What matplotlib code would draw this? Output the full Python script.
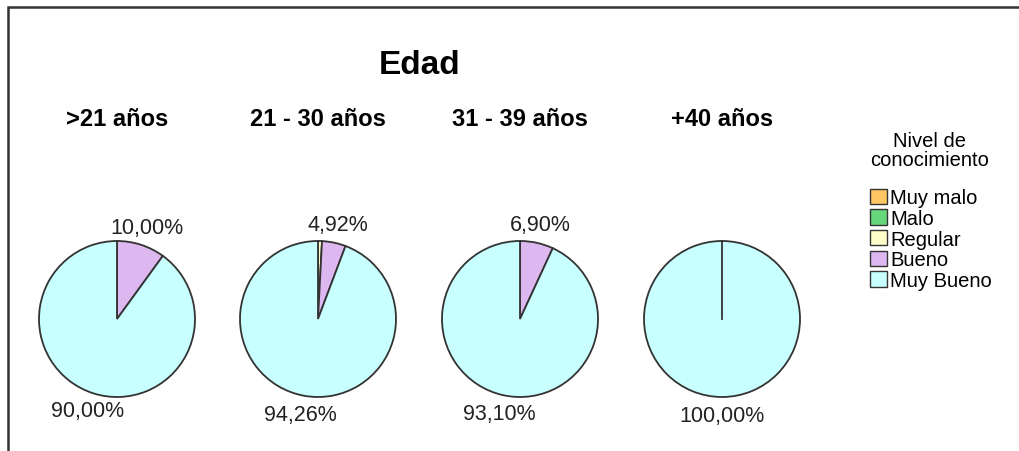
import numpy as np
import matplotlib
matplotlib.use("Agg")
import matplotlib.pyplot as plt
from matplotlib.patches import Patch, Rectangle

plt.rcParams['font.family'] = ['Liberation Sans', 'DejaVu Sans']

# data
title = "Edad"
groups = [">21 años", "21 - 30 años", "31 - 39 años", "+40 años"]
levels = ["Muy malo", "Malo", "Regular", "Bueno", "Muy Bueno"]
colors = ["#FFC864", "#66D77A", "#FFFFCC", "#DDB8F0", "#C8FFFF"]
# percentages per group, in the order of levels
pct_lt21 = [0, 0, 0, 10.00, 90.00]
pct_21_30 = [0, 0, 0.82, 4.92, 94.26]
pct_31_39 = [0, 0, 0, 6.90, 93.10]
pct_40 = [0, 0, 0, 0, 100.00]
values = [pct_lt21, pct_21_30, pct_31_39, pct_40]

W, H = 1020, 452
fig = plt.figure(figsize=(W / 100, H / 100), dpi=100)
ax = fig.add_axes([0, 0, 1, 1])

centers_x = [117, 318, 520, 722]
cy = H - 320
r = 78
edge = "#333333"


def fmt(v):
    return ("%.2f%%" % v).replace(".", ",")


for gx, name, vals in zip(centers_x, groups, values):
    labels = [fmt(v) if v >= 1 else "" for v in vals]
    wedges, texts = ax.pie(vals, colors=colors, startangle=90, counterclock=False,
                           center=(gx, cy), radius=r, labels=labels, labeldistance=1.24,
                           wedgeprops=dict(edgecolor=edge, linewidth=1.3),
                           textprops=dict(fontsize=15.5, color="#222222"))
    for t in texts:
        t.set_horizontalalignment("center")
        t.set_verticalalignment("center")
    # a full-circle wedge still shows its radial border in the reference
    for w in wedges:
        if w.theta2 - w.theta1 >= 359.9:
            a = np.deg2rad(w.theta2)
            ax.plot([gx, gx + r * np.cos(a)], [cy, cy + r * np.sin(a)],
                    color=edge, linewidth=1.3)
    ax.text(gx, H - 120, name, ha="center", va="center", fontsize=17, fontweight="bold")

ax.text(420, H - 65, title, ha="center", va="center", fontsize=24, fontweight="bold")

ax.set_xlim(0, W)
ax.set_ylim(0, H)
ax.set_aspect("auto")
ax.axis("off")

# outer frame (only top and left edges visible)
ax.add_patch(Rectangle((8, -20), W + 20, H - 8 + 20, fill=False,
                       edgecolor=edge, linewidth=1.8))

handles = [Patch(facecolor=c, edgecolor=edge, label=l) for c, l in zip(colors, levels)]
leg = fig.legend(handles=handles, title="Nivel de\nconocimiento", loc="upper center",
                 bbox_to_anchor=(931 / W, 1 - 124 / H), frameon=False, fontsize=14.5,
                 title_fontsize=14.5, handlelength=0.85, handleheight=0.8, handletextpad=0.15,
                 labelspacing=0.08, borderaxespad=0)
leg._legend_box.align = "left"
leg._legend_box.sep = 14
leg.get_title().set_multialignment("center")
leg.get_title().set_linespacing(1.0)

fig.savefig("out.png", dpi=100)
